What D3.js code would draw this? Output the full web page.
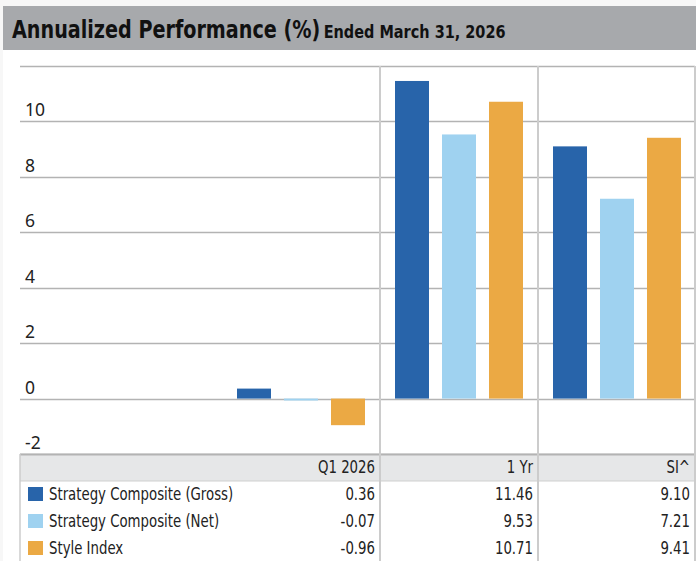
<!DOCTYPE html>
<html>
<head>
<meta charset="utf-8">
<script src="https://cdn.jsdelivr.net/npm/d3@7"></script>
<style>
  html, body { margin: 0; padding: 0; background: #f7f7f7; }
  svg { display: block; }
</style>
</head>
<body>
<svg id="chart" width="696" height="561"></svg>
<script>
// ---- data ----
const categories = ["Q1 2026", "1 Yr", "SI^"];
const seriesNames = ["Strategy Composite (Gross)", "Strategy Composite (Net)", "Style Index"];
const gross = [0.36, 11.46, 9.10];
const net = [-0.07, 9.53, 7.21];
const styleIdx = [-0.96, 10.71, 9.41];
const grossLabels = ["0.36", "11.46", "9.10"];
const netLabels = ["-0.07", "9.53", "7.21"];
const styleLabels = ["-0.96", "10.71", "9.41"];
const yTicks = [-2, 0, 2, 4, 6, 8, 10, 12];
const yTickLabels = ["-2", "0", "2", "4", "6", "8", "10", ""];
const colors = ["#2864aa", "#9fd2f0", "#eba944"];

const seriesValues = [gross, net, styleIdx];
const seriesLabels = [grossLabels, netLabels, styleLabels];

(function () {
const svg = d3.select("#chart");
const W = 696;
const cFont = "'DejaVu Sans Condensed', 'Liberation Sans Narrow', sans-serif";

// panel background
svg.append("rect").attr("x", 3).attr("y", 6).attr("width", W - 3).attr("height", 561 - 6).attr("fill", "#ffffff");
// header band
svg.append("rect").attr("x", 3).attr("y", 6).attr("width", W - 3).attr("height", 44).attr("fill", "#a7a9ac");
const title = svg.append("text").attr("transform", "translate(12,38) scale(0.87,1)")
  .attr("font-family", cFont).attr("font-weight", "bold").attr("fill", "#111");
title.append("tspan").attr("font-size", 24.5).text("Annualized Performance (%)");
title.append("tspan").attr("font-size", 18.5).attr("dx", 4).text("Ended March 31, 2026");

// scales
const pLeft = 20, pRight = 695, pTop = 66, pBottom = 454;
const y = d3.scaleLinear().domain([-2, 12]).range([pBottom, pTop]);
const colEdges = [380, 538, 695];
const x0 = d3.scaleBand().domain(categories).range([222, 696]);
const x1 = d3.scaleBand().domain(d3.range(3)).range([0, x0.bandwidth()])
  .paddingInner(13 / 47).paddingOuter(15 / 47);

// gridlines
svg.append("g").selectAll("line").data(yTicks).join("line")
  .attr("x1", pLeft).attr("x2", pRight)
  .attr("y1", d => Math.round(y(d)) + 0.5).attr("y2", d => Math.round(y(d)) + 0.5)
  .attr("stroke", "#b3b3b3").attr("stroke-width", 1.3);

// tick labels
svg.append("g").selectAll("text").data(yTicks).join("text")
  .attr("x", 25).attr("y", d => y(d) - 5)
  .attr("font-family", "'Noto Sans', 'Open Sans', sans-serif").attr("font-size", 17.5)
  .attr("fill", "#222")
  .text((d, i) => yTickLabels[i]);

// bars
const groups = svg.append("g").selectAll("g").data(categories).join("g")
  .attr("transform", d => `translate(${x0(d)},0)`);
groups.selectAll("rect").data((c, ci) => seriesValues.map((s, si) => ({ si, v: s[ci] })))
  .join("rect")
  .attr("x", d => x1(d.si))
  .attr("width", x1.bandwidth())
  .attr("y", d => y(Math.max(0, d.v)))
  .attr("height", d => Math.abs(y(d.v) - y(0)))
  .attr("fill", d => colors[d.si]);

// table
const tableTop = 454, headH = 27, rowH = 27;
const tableBottom = 561;
svg.append("rect").attr("x", pLeft).attr("y", tableTop).attr("width", pRight - pLeft).attr("height", headH)
  .attr("fill", "#e6e7e8");
svg.append("line").attr("x1", pLeft).attr("x2", pRight).attr("y1", tableTop + 0.5).attr("y2", tableTop + 0.5)
  .attr("stroke", "#b3b3b3").attr("stroke-width", 2);
svg.append("line").attr("x1", pLeft).attr("x2", pRight).attr("y1", tableTop + headH).attr("y2", tableTop + headH)
  .attr("stroke", "#cfcfcf").attr("stroke-width", 1);

// vertical dividers
svg.append("g").selectAll("line").data(colEdges).join("line")
  .attr("x1", d => d).attr("x2", d => d).attr("y1", pTop).attr("y2", tableBottom)
  .attr("stroke", "#cccccc").attr("stroke-width", 2);
svg.append("line").attr("x1", pLeft).attr("x2", pLeft).attr("y1", tableTop).attr("y2", tableBottom)
  .attr("stroke", "#cccccc").attr("stroke-width", 1.5);

const sx = 0.87, fs = 17;
// header labels
svg.append("g").selectAll("text").data(categories).join("text")
  .attr("transform", (d, i) => `translate(${colEdges[i] - 5},${tableTop + 19}) scale(${sx},1)`)
  .attr("text-anchor", "end").attr("font-family", cFont).attr("font-size", fs).attr("fill", "#222")
  .text(d => d);

// rows
const rows = svg.append("g").selectAll("g").data(seriesNames).join("g")
  .attr("transform", (d, i) => `translate(0,${tableTop + headH + i * rowH})`);
rows.append("rect").attr("x", 28).attr("y", 6).attr("width", 15).attr("height", 14)
  .attr("fill", (d, i) => colors[i]);
rows.append("text").attr("transform", `translate(49,19) scale(${sx},1)`)
  .attr("font-family", cFont).attr("font-size", fs).attr("fill", "#222").text(d => d);
rows.each(function (d, i) {
  d3.select(this).selectAll("text.v").data(seriesLabels[i]).join("text").attr("class", "v")
    .attr("transform", (v, j) => `translate(${colEdges[j] - 5},19) scale(${sx},1)`)
    .attr("text-anchor", "end")
    .attr("font-family", cFont).attr("font-size", fs).attr("fill", "#222").text(v => v);
});
})();
</script>
</body>
</html>
